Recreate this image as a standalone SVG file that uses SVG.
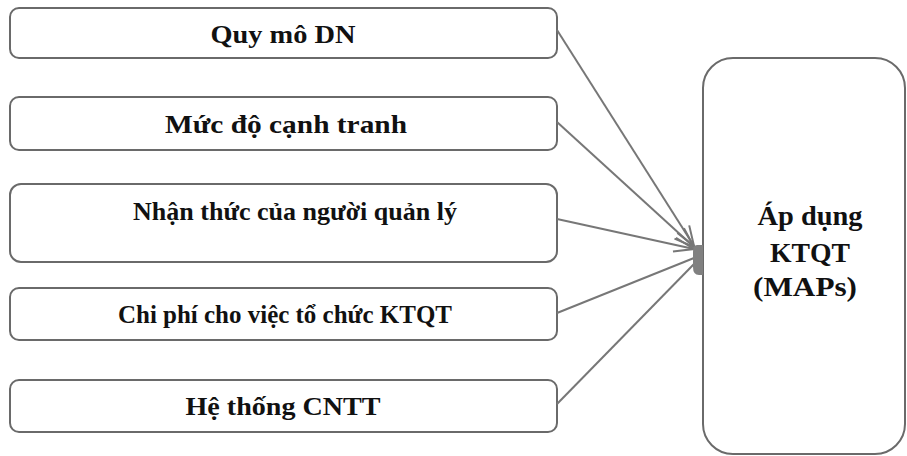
<svg xmlns="http://www.w3.org/2000/svg" width="907" height="456" viewBox="0 0 907 456">
<style>
.box{fill:#fff;stroke:#6a6a6a;stroke-width:2}
.t{font-family:"Liberation Serif","Times New Roman",serif;font-weight:bold;fill:#111;text-anchor:middle}
.s{font-size:26px}
.b{font-size:28px}
.c{stroke:#777;stroke-width:2;fill:none}
</style>
<defs>
<marker id="arr" markerUnits="userSpaceOnUse" viewBox="-22 -10 24 20" refX="0" refY="0" markerWidth="24" markerHeight="20" orient="auto">
<path d="M-20,-7 L0,0 L-20,7" fill="none" stroke="#777" stroke-width="2"/>
</marker>
</defs>
<rect width="907" height="456" fill="#fff"/>
<g id="n1"><rect class="box" x="10" y="8" width="547" height="50" rx="9"/><text class="t s" x="283" y="43" textLength="145" lengthAdjust="spacingAndGlyphs">Quy mô DN</text></g>
<g id="n2"><rect class="box" x="10" y="97" width="547" height="53" rx="9"/><text class="t s" x="286" y="133" textLength="242" lengthAdjust="spacingAndGlyphs">Mức độ cạnh tranh</text></g>
<g id="n3"><rect class="box" x="10" y="184" width="547" height="78" rx="11"/><text class="t s" x="295" y="220" textLength="324" lengthAdjust="spacingAndGlyphs">Nhận thức của người quản lý</text></g>
<g id="n4"><rect class="box" x="10" y="288" width="547" height="52" rx="9"/><text class="t s" x="285" y="323" textLength="334" lengthAdjust="spacingAndGlyphs">Chi phí cho việc tổ chức KTQT</text></g>
<g id="n5"><rect class="box" x="10" y="380" width="547" height="52" rx="9"/><text class="t s" x="283" y="415" textLength="195" lengthAdjust="spacingAndGlyphs">Hệ thống CNTT</text></g>
<g id="n6"><rect class="box" x="703" y="58" width="202" height="396" rx="30"/>
<text class="t b" x="810" y="225" textLength="105" lengthAdjust="spacingAndGlyphs">Áp dụng</text>
<text class="t b" x="810" y="262" textLength="80" lengthAdjust="spacingAndGlyphs">KTQT</text>
<text class="t b" x="805" y="296" textLength="104" lengthAdjust="spacingAndGlyphs">(MAPs)</text>
</g>
<g id="connectors">
<line class="c" x1="557" y1="30" x2="694" y2="246" marker-end="url(#arr)"/>
<line class="c" x1="557" y1="122" x2="694" y2="247" marker-end="url(#arr)"/>
<line class="c" x1="557" y1="219" x2="694" y2="249" marker-end="url(#arr)"/>
<line class="c" x1="557" y1="313" x2="694" y2="258"/>
<line class="c" x1="557" y1="404" x2="694" y2="264"/>
<path d="M703,245 L697,245 Q693,245 693,252 L693,267 Q693,275 699,275 L703,275 Z" fill="#808080"/>
</g>
</svg>
